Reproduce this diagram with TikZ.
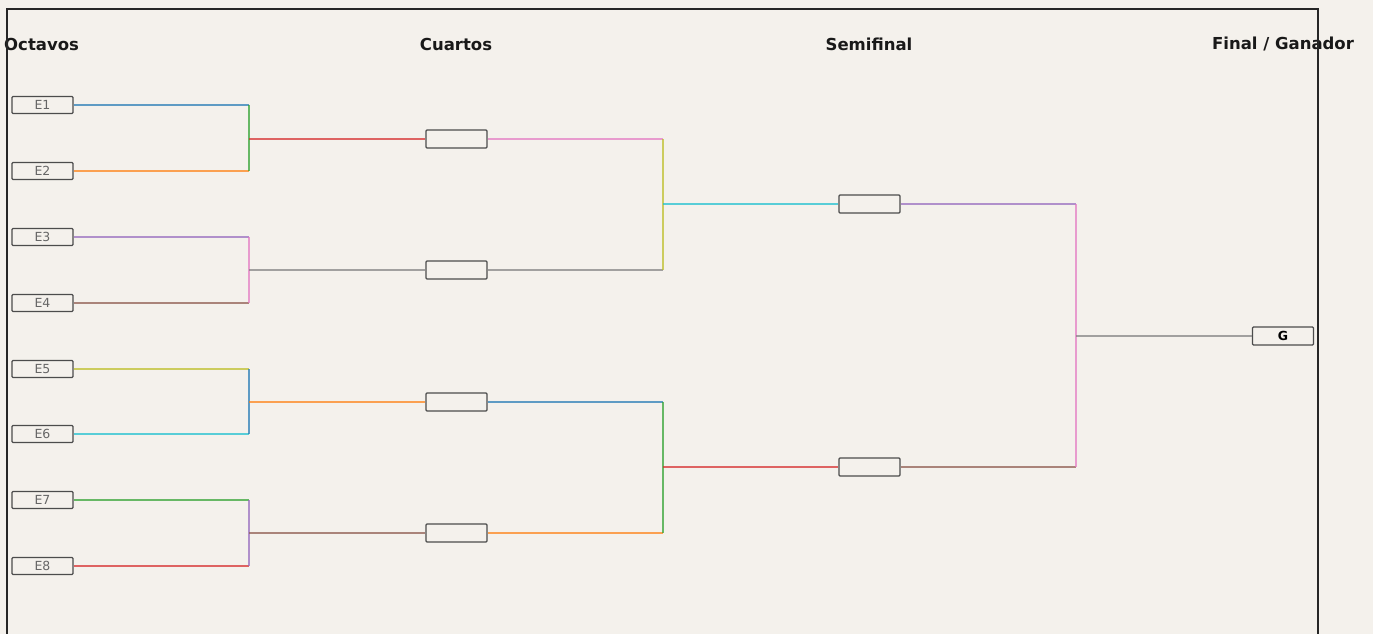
\documentclass[tikz,border=0pt]{standalone}
\usepackage{fontspec}
\setmainfont{DejaVu Sans}
\definecolor{bgc}{HTML}{F4F1EC}
\definecolor{tblue}{HTML}{1F77B4}
\definecolor{torange}{HTML}{FF7F0E}
\definecolor{tgreen}{HTML}{2CA02C}
\definecolor{tred}{HTML}{D62728}
\definecolor{tpurple}{HTML}{9467BD}
\definecolor{tbrown}{HTML}{8C564B}
\definecolor{tpink}{HTML}{E377C2}
\definecolor{tgray}{HTML}{7F7F7F}
\definecolor{tolive}{HTML}{BCBD22}
\definecolor{tcyan}{HTML}{17BECF}
\begin{document}
\begin{tikzpicture}[x=1pt,y=-1pt,
  team/.style={draw=black!70,line width=1.3pt,fill=bgc,rounded corners=1pt,minimum width=61pt,minimum height=17pt,inner sep=0pt,font=\fontsize{12.5}{12.5}\selectfont,text=black!60},
  slot/.style={team,minimum height=18pt},
  hdr/.style={font=\fontsize{16.5}{17}\bfseries\selectfont,text=black!90},
  ln/.style={line width=1.8pt,draw opacity=0.7},
  frame/.style={draw=black!85,line width=1.4pt}]
\fill[bgc] (0,0) rectangle (1373,634);
\useasboundingbox (0,0) rectangle (1373,634);
% headers
\node[hdr,anchor=west,inner sep=0pt] (h1) at (4,44) {Octavos};
\node[hdr] (h2) at (456,44) {Cuartos};
\node[hdr] (h3) at (869,44) {Semifinal};
\node[hdr] (h4) at (1283,44) {Final / Ganador};
% teams
\node[team] (E1) at (42.5,105) {E1};
\node[team] (E2) at (42.5,171) {E2};
\node[team] (E3) at (42.5,237) {E3};
\node[team] (E4) at (42.5,303) {E4};
\node[team] (E5) at (42.5,369) {E5};
\node[team] (E6) at (42.5,434) {E6};
\node[team] (E7) at (42.5,500) {E7};
\node[team] (E8) at (42.5,566) {E8};
\node[slot] (Q1) at (456.5,139) {};
\node[slot] (Q2) at (456.5,270) {};
\node[slot] (Q3) at (456.5,402) {};
\node[slot] (Q4) at (456.5,533) {};
\node[slot] (S1) at (869.5,204) {};
\node[slot] (S2) at (869.5,467) {};
\node[slot,text=black,font=\fontsize{12.5}{12.5}\bfseries\selectfont] (G) at (1283,336) {G};
% join points
\coordinate (J1) at (249,139);
\coordinate (J2) at (249,270);
\coordinate (J3) at (249,402);
\coordinate (J4) at (249,533);
\coordinate (K1) at (663,204);
\coordinate (K2) at (663,467);
\coordinate (L1) at (1076,336);
% round 1
\draw[ln,tblue] (E1.east) -- (J1 |- E1);
\draw[ln,torange] (E2.east) -- (J1 |- E2);
\draw[ln,tgreen] (J1 |- E1) -- (J1 |- E2);
\draw[ln,tred] (J1) -- (Q1.west);
\draw[ln,tpurple] (E3.east) -- (J2 |- E3);
\draw[ln,tbrown] (E4.east) -- (J2 |- E4);
\draw[ln,tpink] (J2 |- E3) -- (J2 |- E4);
\draw[ln,tgray] (J2) -- (Q2.west);
\draw[ln,tolive] (E5.east) -- (J3 |- E5);
\draw[ln,tcyan] (E6.east) -- (J3 |- E6);
\draw[ln,tblue] (J3 |- E5) -- (J3 |- E6);
\draw[ln,torange] (J3) -- (Q3.west);
\draw[ln,tgreen] (E7.east) -- (J4 |- E7);
\draw[ln,tred] (E8.east) -- (J4 |- E8);
\draw[ln,tpurple] (J4 |- E7) -- (J4 |- E8);
\draw[ln,tbrown] (J4) -- (Q4.west);
% round 2
\draw[ln,tpink] (Q1.east) -- (K1 |- Q1);
\draw[ln,tgray] (Q2.east) -- (K1 |- Q2);
\draw[ln,tolive] (K1 |- Q1) -- (K1 |- Q2);
\draw[ln,tcyan] (K1) -- (S1.west);
\draw[ln,tblue] (Q3.east) -- (K2 |- Q3);
\draw[ln,torange] (Q4.east) -- (K2 |- Q4);
\draw[ln,tgreen] (K2 |- Q3) -- (K2 |- Q4);
\draw[ln,tred] (K2) -- (S2.west);
% semis
\draw[ln,tpurple] (S1.east) -- (L1 |- S1);
\draw[ln,tbrown] (S2.east) -- (L1 |- S2);
\draw[ln,tpink] (L1 |- S1) -- (L1 |- S2);
\draw[ln,tgray] (L1) -- (G.west);
% frame
\draw[frame] (7,640) -- (7,9) -- (1318,9) -- (1318,640);
\end{tikzpicture}
\end{document}
